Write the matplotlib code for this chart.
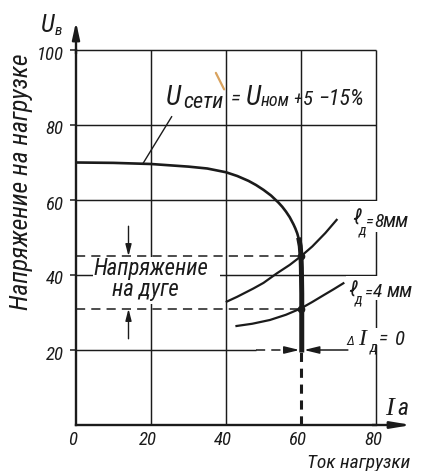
import matplotlib
matplotlib.use("Agg")
import matplotlib.pyplot as plt
from matplotlib.patches import Rectangle
from matplotlib.transforms import ScaledTranslation

FONT = ["Roboto Condensed", "Liberation Sans", "DejaVu Sans"]
SERIF = ["Liberation Serif", "DejaVu Serif"]
plt.rcParams["font.family"] = FONT
plt.rcParams["font.style"] = "italic"
INK = "#1b1b1b"

# axis ticks
x_ticks = [0, 20, 40, 60, 80]
y_ticks = [20, 40, 60, 80, 100]

# external characteristic of the supply (U_сети = U_ном +5 −15%)
source_I = [0, 10, 20, 30, 35, 40, 43, 46, 48, 50, 52, 54, 55, 56, 57, 58, 58.5, 59,
            59.5, 59.8, 60.0, 60.1, 60.2, 60.2]
source_U = [70, 69.9, 69.6, 68.9, 68.4, 67.4, 66.4, 65.1, 64.0, 62.7, 61.2, 59.3, 58.2,
            56.9, 55.4, 53.5, 52.4, 51.1, 49.3, 47.7, 45.0, 42.0, 35.0, 20.0]

# static arc characteristics for two arc lengths
arc8_I = [40.2, 43.0, 47.3, 50.0, 53.5, 57.0, 60.0, 63.0, 66.5, 69.5]
arc8_U = [32.9, 34.2, 36.4, 37.9, 40.4, 42.7, 45.0, 47.6, 51.2, 54.7]
arc4_I = [42.8, 47.0, 51.7, 56.0, 60.0, 63.0, 66.0, 68.7, 71.3]
arc4_U = [26.4, 27.0, 28.0, 29.4, 31.1, 32.8, 34.6, 36.2, 37.8]

# operating points (arc current, arc voltage for 8 mm and 4 mm)
op_I = 60
op_U = [45, 31]

fig = plt.figure(figsize=(4.23, 4.71), dpi=100)
ax = fig.add_axes([76 / 423, 46 / 471, 300 / 423, 375 / 471])
ax.set_xlim(x_ticks[0], x_ticks[-1])
ax.set_ylim(0, y_ticks[-1])
renderer = fig.canvas.get_renderer()

for side in ("top", "right"):
    ax.spines[side].set_visible(False)
for side in ("left", "bottom"):
    ax.spines[side].set_linewidth(1.7)
    ax.spines[side].set_color(INK)
    ax.spines[side].set_zorder(7)

ax.set_xticks(x_ticks)
ax.set_yticks(y_ticks)
ax.tick_params(axis="x", length=0, pad=4, labelsize=13.5, colors=INK)
ax.tick_params(axis="y", length=4, width=1.1, direction="out", pad=5, labelsize=13.5, colors=INK)
for lbl in ax.get_xticklabels():
    lbl.set_transform(lbl.get_transform() + ScaledTranslation(-0.03, 0, fig.dpi_scale_trans))
for lbl in ax.get_yticklabels():
    lbl.set_transform(lbl.get_transform() + ScaledTranslation(0, -0.025, fig.dpi_scale_trans))

# grid of the drawing
grid_kw = dict(color=INK, lw=1.05, zorder=1, clip_on=False)
ax.vlines(x_ticks[1:3], 0, y_ticks[-1], **grid_kw)
ax.vlines(x_ticks[3], y_ticks[0], y_ticks[-1], **grid_kw)
ax.vlines(x_ticks[-1], 0, y_ticks[-1], **grid_kw)
ax.hlines(y_ticks[1:], 0, x_ticks[-1], **grid_kw)
ax.hlines(y_ticks[0], 0, 48, **grid_kw)

# white fields under the inscriptions
for (x0, y0, w, h) in [(4.5, 32.2, 33.9, 12.5), (73.0, 51.6, 19.0, 8.1),
                       (72.0, 33.3, 20.0, 6.4), (72.0, 21.4, 17.0, 4.6)]:
    ax.add_patch(Rectangle((x0, y0), w, h, facecolor="white", edgecolor="none",
                           zorder=2, clip_on=False))

# supply characteristic; the working (steep) part is drawn heavier
ax.plot(source_I, source_U, color=INK, lw=1.9, zorder=5, solid_capstyle="round")
steep = [(i, u) for i, u in zip(source_I, source_U) if u <= 50]
ax.plot([p[0] for p in steep], [p[1] for p in steep], color=INK, lw=3.6, zorder=5)

# arc characteristics
ax.plot(arc8_I, arc8_U, color=INK, lw=1.6, zorder=5)
ax.plot(arc4_I, arc4_U, color=INK, lw=1.6, zorder=5)
ax.plot([op_I] * len(op_U), op_U, "o", color=INK, ms=4.5, zorder=6)

# projections of the operating points
ax.hlines(op_U, 0, op_I, color=INK, lw=1.1, linestyles=(0, (6, 4)), zorder=4)
ax.vlines(op_I, 0, min(source_U), color=INK, lw=2.2, linestyles=(0, (3, 2.2)), zorder=4)

# arrows marking the arc voltage range
akw = dict(arrowstyle="-|>,head_length=0.7,head_width=0.18", color=INK, lw=1.0,
           shrinkA=0, shrinkB=0)
ax.annotate("", xy=(14, op_U[0]), xytext=(14, 53), arrowprops=akw, annotation_clip=False)
ax.annotate("", xy=(14, op_U[1]), xytext=(14, 23), arrowprops=akw, annotation_clip=False)

# ΔI = 0 arrows on the 20 V line
ax.plot([48, 56.5], [20, 20], color=INK, lw=1.1, ls=(0, (6, 4)), zorder=4)
akw2 = dict(arrowstyle="-|>,head_length=0.9,head_width=0.22", color=INK, lw=1.1,
            shrinkA=0, shrinkB=0)
ax.annotate("", xy=(59.6, 20), xytext=(55.5, 20), arrowprops=akw2, annotation_clip=False)
ax.annotate("", xy=(60.8, 20), xytext=(72.5, 20), arrowprops=akw2, annotation_clip=False)

# axis arrows
ax.annotate("", xy=(0, 107.5), xytext=(0, 99), annotation_clip=False,
            arrowprops=dict(arrowstyle="-|>,head_length=1.0,head_width=0.22",
                            color=INK, lw=1.7, shrinkA=0, shrinkB=0))
ax.annotate("", xy=(89.5, 0), xytext=(79, 0), annotation_clip=False,
            arrowprops=dict(arrowstyle="-|>,head_length=1.2,head_width=0.2",
                            color=INK, lw=1.7, shrinkA=0, shrinkB=0))

# leader to the supply characteristic
ax.plot([17.9, 25.5], [69.8, 82.2], color=INK, lw=1.0, zorder=5)
# pencil mark
ax.plot([37.3, 39.5], [93.9, 89.5], color="#d9a25e", lw=1.6, solid_capstyle="round", zorder=6)


def ink_width(s, size, **kw):
    t = ax.text(0, 0, s, fontsize=size, **kw)
    w = t.get_window_extent(renderer).width
    t.remove()
    return w


def fit(s, width_px, maxsize, **kw):
    """Font size that gives the string the requested width in pixels."""
    return min(maxsize, 20.0 * width_px / ink_width(s, 20, **kw))


def put(x, y, s, size=None, width=None, maxsize=16, **kw):
    if width is not None:
        size = fit(s, width, maxsize, **kw)
    return ax.text(x, y, s, fontsize=size, ha="left", va="baseline", color=INK,
                   zorder=8, clip_on=False, **kw)


# U_сети = U_ном +5 −15%
put(24.0, 85.33, "U", 20)
put(28.5, 84.53, "сети", width=42, maxsize=16)
put(41.4, 85.6, "=", 15)
put(45.3, 85.33, "U", 20)
put(49.3, 85.07, "ном", width=29, maxsize=16)
put(58.0, 85.6, "+", 13)
put(60.53, 85.33, "5", 15)
put(64.53, 85.33, "−15%", width=48, maxsize=16)

# ℓд = 8 мм
put(73.6, 53.33, "ℓ", 15)
put(75.4, 50.93, "д", 10.5)
put(77.2, 53.07, "=", 12)
put(79.47, 52.8, "8", 14)
put(81.87, 52.8, "мм", width=34, maxsize=15)

# ℓд = 4 мм
put(72.53, 34.13, "ℓ", 15)
put(74.4, 32.53, "д", 10.5)
put(76.9, 34.13, "=", 12)
put(79.2, 34.13, "4", 14)
put(82.93, 34.13, "мм", width=30, maxsize=15)

# ΔIд = 0
put(72.0, 21.33, "Δ", 9.5)
put(75.2, 21.33, "I", 17, family=SERIF)
put(78.4, 19.47, "д", 10.5)
put(80.9, 21.6, "=", 14)
put(85.07, 21.33, "0", 15)

# axis symbols
put(-9.3, 104.8, "U", 18)
put(-5.6, 103.9, "в", 11)
put(82.4, 2.67, "I", 19, family=SERIF)
put(85.8, 2.67, "a", 17)

# arc voltage caption
s_cap = fit("Напряжение", 115, 17)
ax.text(19.87, 40.0, "Напряжение", fontsize=s_cap, ha="center", va="baseline",
        color=INK, zorder=8)
ax.text(18.53, 34.4, "на дуге", fontsize=s_cap, ha="center", va="baseline",
        color=INK, zorder=8)

# axis titles
ax.text(-14.6, 64.93, "Напряжение на нагрузке", fontsize=fit("Напряжение на нагрузке", 257, 19),
        rotation=90, ha="center", va="center", color=INK, clip_on=False)
ax.text(75.47, -11.47, "Ток нагрузки", fontsize=14, ha="center", va="baseline",
        color=INK, clip_on=False)

fig.savefig("out.png", dpi=100, facecolor="white")
